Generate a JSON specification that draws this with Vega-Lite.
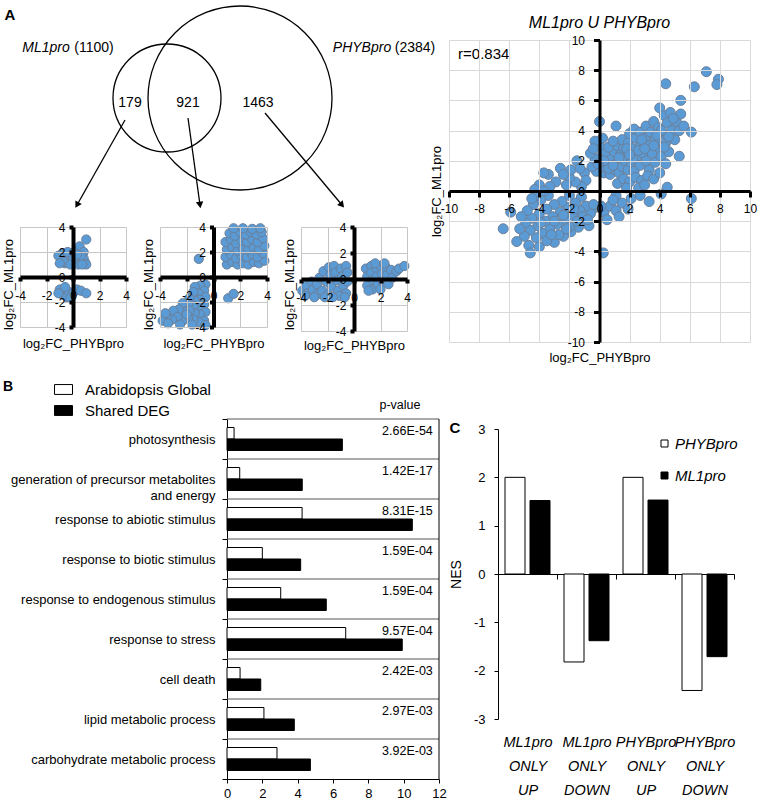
{
  "$schema": "https://vega.github.io/schema/vega-lite/v6.json",
  "padding": {"left": 2, "top": 3, "right": 0, "bottom": 0},
  "config": {
    "font": "Liberation Sans",
    "view": {"stroke": null},
    "locale": {"number": {"decimal": ".", "thousands": ",", "grouping": [3], "currency": ["$", ""], "minus": "-"}},
    "axis": {"labelColor": "black", "titleColor": "black", "labelFont": "Liberation Sans", "titleFont": "Liberation Sans", "titleFontWeight": "normal"},
    "legend": {"labelFont": "Liberation Sans", "titleFont": "Liberation Sans", "labelColor": "black", "titleColor": "black"},
    "title": {"font": "Liberation Sans", "color": "black", "fontWeight": "normal"},
    "text": {"font": "Liberation Sans", "color": "black"}
  },
  "datasets": {
    "vennSets": [{"set": "ML1pro", "count": 1100, "cx": 14.7, "cy": 5.8}, {"set": "PHYBpro", "count": 2384, "cx": 22.0, "cy": 5.8}],
    "vennItalic": [{"t": "ML1pro", "cx": 2.6, "cy": 0.8}, {"t": "PHYBpro", "cx": 34.2, "cy": 0.8}],
    "vennText": [{"t": "(1100)", "cx": 7.4, "cy": 0.8}, {"t": "(2384)", "cx": 39.5, "cy": 0.8}, {"t": "179", "cx": 11.0, "cy": 6.3}, {"t": "921", "cx": 16.8, "cy": 6.3}, {"t": "1463", "cx": 23.8, "cy": 6.3}],
    "arrows": [{"cx": 10.5, "cy": 8.0, "ex": 5.7, "ey": 16.5}, {"cx": 16.8, "cy": 7.8, "ex": 18.0, "ey": 16.5}, {"cx": 24.5, "cy": 7.3, "ex": 32.2, "ey": 16.5}],
    "s1": [
      {"phyb": 1.0, "ml1": 3.0}, {"phyb": 0.5, "ml1": 2.45}, {"phyb": 0.8, "ml1": 2.0}, {"phyb": -0.8, "ml1": 1.9}, {"phyb": -0.5, "ml1": 1.6}, {"phyb": -0.2, "ml1": 1.8}, {"phyb": 0.2, "ml1": 1.5}, {"phyb": 0.5, "ml1": 1.3}, {"phyb": 0.9, "ml1": 1.2}, {"phyb": -0.9, "ml1": 1.4}, {"phyb": -0.6, "ml1": 1.1}, {"phyb": -0.3, "ml1": 1.3}, {"phyb": 0.1, "ml1": 1.1}, {"phyb": 0.4, "ml1": 1.0}, {"phyb": 0.8, "ml1": 1.5}, {"phyb": -1.1, "ml1": 1.7}, {"phyb": -0.4, "ml1": 2.0}, {"phyb": 0.1, "ml1": 2.0}, {"phyb": 0.6, "ml1": 1.7}, {"phyb": -0.7, "ml1": 1.2}, {"phyb": 0.0, "ml1": 1.4}, {"phyb": 0.3, "ml1": 1.8}, {"phyb": 1.0, "ml1": 1.0}, {"phyb": -1.0, "ml1": 1.1}, {"phyb": -0.2, "ml1": 1.0}, {"phyb": 0.7, "ml1": 1.0},
      {"phyb": -1.0, "ml1": -1.0}, {"phyb": -0.8, "ml1": -1.4}, {"phyb": -0.5, "ml1": -1.6}, {"phyb": -0.3, "ml1": -1.2}, {"phyb": -0.6, "ml1": -0.8}, {"phyb": 0.0, "ml1": -1.3}, {"phyb": 0.3, "ml1": -1.0}, {"phyb": 0.6, "ml1": -1.1}, {"phyb": 1.0, "ml1": -1.3}, {"phyb": -1.1, "ml1": -1.3}, {"phyb": -0.2, "ml1": -1.7}
    ],
    "s2": [
      {"phyb": 1.0, "ml1": 1.0}, {"phyb": 1.4, "ml1": 1.2}, {"phyb": 1.8, "ml1": 1.0}, {"phyb": 2.2, "ml1": 1.1}, {"phyb": 2.6, "ml1": 1.0}, {"phyb": 3.0, "ml1": 1.2}, {"phyb": 3.4, "ml1": 1.1}, {"phyb": 3.8, "ml1": 1.3},
      {"phyb": 0.9, "ml1": 1.6}, {"phyb": 1.3, "ml1": 1.8}, {"phyb": 1.7, "ml1": 1.5}, {"phyb": 2.1, "ml1": 1.7}, {"phyb": 2.5, "ml1": 1.6}, {"phyb": 2.9, "ml1": 1.8}, {"phyb": 3.3, "ml1": 1.6}, {"phyb": 3.7, "ml1": 1.9},
      {"phyb": 1.0, "ml1": 2.2}, {"phyb": 1.4, "ml1": 2.4}, {"phyb": 1.8, "ml1": 2.1}, {"phyb": 2.2, "ml1": 2.3}, {"phyb": 2.6, "ml1": 2.2}, {"phyb": 3.0, "ml1": 2.4}, {"phyb": 3.4, "ml1": 2.2}, {"phyb": 3.8, "ml1": 2.5},
      {"phyb": 0.9, "ml1": 2.8}, {"phyb": 1.3, "ml1": 3.0}, {"phyb": 1.7, "ml1": 2.7}, {"phyb": 2.1, "ml1": 2.9}, {"phyb": 2.5, "ml1": 2.8}, {"phyb": 2.9, "ml1": 3.0}, {"phyb": 3.3, "ml1": 2.8}, {"phyb": 3.7, "ml1": 3.1},
      {"phyb": 1.2, "ml1": 3.5}, {"phyb": 1.6, "ml1": 3.3}, {"phyb": 2.0, "ml1": 3.6}, {"phyb": 2.4, "ml1": 3.4}, {"phyb": 2.8, "ml1": 3.6}, {"phyb": 3.2, "ml1": 3.4}, {"phyb": 3.6, "ml1": 3.6},
      {"phyb": 1.5, "ml1": 3.9}, {"phyb": 2.2, "ml1": 3.9}, {"phyb": 2.9, "ml1": 3.85}, {"phyb": 3.5, "ml1": 3.9},
      {"phyb": -1.1, "ml1": 1.45}, {"phyb": 1.1, "ml1": -1.7}, {"phyb": 1.5, "ml1": -1.35},
      {"phyb": -0.6, "ml1": -0.6}, {"phyb": -1.0, "ml1": -0.7}, {"phyb": -1.4, "ml1": -0.8}, {"phyb": -0.7, "ml1": -1.1}, {"phyb": -1.1, "ml1": -1.3}, {"phyb": -1.5, "ml1": -1.2}, {"phyb": -0.6, "ml1": -1.6}, {"phyb": -1.0, "ml1": -1.8}, {"phyb": -1.4, "ml1": -1.9}, {"phyb": -1.8, "ml1": -1.7}, {"phyb": -0.7, "ml1": -2.2}, {"phyb": -1.1, "ml1": -2.4}, {"phyb": -1.5, "ml1": -2.3}, {"phyb": -1.9, "ml1": -2.2}, {"phyb": -2.3, "ml1": -2.1}, {"phyb": -0.6, "ml1": -2.8}, {"phyb": -1.0, "ml1": -3.0}, {"phyb": -1.4, "ml1": -2.9}, {"phyb": -1.8, "ml1": -2.7}, {"phyb": -2.2, "ml1": -2.8}, {"phyb": -2.6, "ml1": -2.6}, {"phyb": -3.0, "ml1": -2.7}, {"phyb": -0.7, "ml1": -3.5}, {"phyb": -1.1, "ml1": -3.6}, {"phyb": -1.5, "ml1": -3.4}, {"phyb": -1.9, "ml1": -3.3}, {"phyb": -2.3, "ml1": -3.5}, {"phyb": -2.7, "ml1": -3.2}, {"phyb": -3.1, "ml1": -3.4}, {"phyb": -3.5, "ml1": -3.2}, {"phyb": -3.8, "ml1": -3.5}, {"phyb": -3.4, "ml1": -3.7}, {"phyb": -2.5, "ml1": -3.8}, {"phyb": -1.6, "ml1": -3.8}, {"phyb": -0.6, "ml1": -3.85}, {"phyb": -2.0, "ml1": -3.0}, {"phyb": -3.6, "ml1": -2.9}
    ],
    "s3": [
      {"phyb": -3.9, "ml1": -0.9}, {"phyb": -3.6, "ml1": -0.5}, {"phyb": -3.5, "ml1": -1.1}, {"phyb": -3.2, "ml1": -0.2}, {"phyb": -3.1, "ml1": -0.8}, {"phyb": -2.8, "ml1": -1.2}, {"phyb": -2.8, "ml1": -0.4}, {"phyb": -2.6, "ml1": 0.1}, {"phyb": -2.4, "ml1": -0.9}, {"phyb": -2.3, "ml1": 0.6}, {"phyb": -2.1, "ml1": -0.2}, {"phyb": -2.0, "ml1": -1.2}, {"phyb": -1.9, "ml1": 0.9}, {"phyb": -1.8, "ml1": 0.3}, {"phyb": -1.7, "ml1": -0.6}, {"phyb": -1.5, "ml1": 1.0}, {"phyb": -1.4, "ml1": 0.5}, {"phyb": -1.3, "ml1": -0.1}, {"phyb": -1.2, "ml1": -0.9}, {"phyb": -1.1, "ml1": -1.3}, {"phyb": -1.0, "ml1": 0.8}, {"phyb": -0.9, "ml1": 0.2}, {"phyb": -0.8, "ml1": -0.5}, {"phyb": -0.6, "ml1": 1.0}, {"phyb": -0.6, "ml1": -1.1}, {"phyb": -0.5, "ml1": 0.5}, {"phyb": -0.5, "ml1": -0.2}, {"phyb": -3.7, "ml1": -1.3}, {"phyb": -3.0, "ml1": -1.4}, {"phyb": -2.2, "ml1": -1.4}, {"phyb": -1.6, "ml1": -1.4}, {"phyb": -0.7, "ml1": -1.4},
      {"phyb": 0.9, "ml1": 0.8}, {"phyb": 1.0, "ml1": 0.2}, {"phyb": 1.0, "ml1": -0.5}, {"phyb": 1.3, "ml1": 1.0}, {"phyb": 1.3, "ml1": 0.5}, {"phyb": 1.4, "ml1": -0.1}, {"phyb": 1.4, "ml1": -0.8}, {"phyb": 1.7, "ml1": 0.8}, {"phyb": 1.7, "ml1": 0.2}, {"phyb": 1.8, "ml1": -0.4}, {"phyb": 2.0, "ml1": 1.0}, {"phyb": 2.0, "ml1": -0.8}, {"phyb": 2.1, "ml1": 0.4}, {"phyb": 2.2, "ml1": -0.2}, {"phyb": 2.4, "ml1": 0.9}, {"phyb": 2.5, "ml1": 0.3}, {"phyb": 2.6, "ml1": -0.4}, {"phyb": 2.8, "ml1": 0.7}, {"phyb": 2.9, "ml1": 0.1}, {"phyb": 3.2, "ml1": 0.6}, {"phyb": 3.4, "ml1": 0.8}, {"phyb": 3.8, "ml1": 1.0}, {"phyb": 1.1, "ml1": -0.9}, {"phyb": 1.6, "ml1": 1.2}, {"phyb": 2.3, "ml1": 1.2}
    ],
    "big": [
      {"phyb": 0.3, "ml1": 1.2}, {"phyb": 0.2, "ml1": 1.6}, {"phyb": 0.5, "ml1": 1.9}, {"phyb": 0.1, "ml1": 2.3}, {"phyb": 0.4, "ml1": 2.6}, {"phyb": 0.0, "ml1": 3.0}, {"phyb": 0.2, "ml1": 3.5}, {"phyb": 0.0, "ml1": 4.6}, {"phyb": 1.1, "ml1": 4.3}, {"phyb": 0.7, "ml1": 1.1}, {"phyb": 1.0, "ml1": 1.4}, {"phyb": 1.3, "ml1": 1.2}, {"phyb": 0.8, "ml1": 2.1}, {"phyb": 1.2, "ml1": 1.9}, {"phyb": 1.5, "ml1": 1.6}, {"phyb": 1.0, "ml1": 2.6}, {"phyb": 1.4, "ml1": 2.4}, {"phyb": 1.7, "ml1": 2.0}, {"phyb": 1.9, "ml1": 1.4}, {"phyb": 1.2, "ml1": 3.0}, {"phyb": 1.6, "ml1": 2.9}, {"phyb": 1.9, "ml1": 2.5}, {"phyb": 2.1, "ml1": 1.9}, {"phyb": 2.3, "ml1": 1.3}, {"phyb": 1.5, "ml1": 3.4}, {"phyb": 1.9, "ml1": 3.2}, {"phyb": 2.2, "ml1": 2.8}, {"phyb": 2.5, "ml1": 2.3}, {"phyb": 2.7, "ml1": 1.7}, {"phyb": 2.0, "ml1": 3.8}, {"phyb": 2.4, "ml1": 3.5}, {"phyb": 2.7, "ml1": 3.0}, {"phyb": 2.9, "ml1": 2.5}, {"phyb": 3.1, "ml1": 2.0}, {"phyb": 3.3, "ml1": 1.4}, {"phyb": 2.3, "ml1": 4.1}, {"phyb": 2.7, "ml1": 3.9}, {"phyb": 3.0, "ml1": 3.5}, {"phyb": 3.3, "ml1": 3.0}, {"phyb": 3.5, "ml1": 2.5}, {"phyb": 3.7, "ml1": 1.9}, {"phyb": 3.1, "ml1": 4.3}, {"phyb": 3.4, "ml1": 3.9}, {"phyb": 3.7, "ml1": 3.4}, {"phyb": 3.9, "ml1": 2.9}, {"phyb": 4.1, "ml1": 2.3}, {"phyb": 3.6, "ml1": 4.6}, {"phyb": 3.9, "ml1": 4.2}, {"phyb": 4.2, "ml1": 3.8}, {"phyb": 4.4, "ml1": 3.2}, {"phyb": 4.6, "ml1": 2.6}, {"phyb": 4.0, "ml1": 5.5}, {"phyb": 4.3, "ml1": 5.0}, {"phyb": 4.5, "ml1": 4.5}, {"phyb": 4.8, "ml1": 4.0}, {"phyb": 5.0, "ml1": 3.4}, {"phyb": 4.7, "ml1": 5.2}, {"phyb": 5.1, "ml1": 4.6}, {"phyb": 5.4, "ml1": 5.1}, {"phyb": 5.3, "ml1": 4.0}, {"phyb": 5.6, "ml1": 4.3}, {"phyb": 6.1, "ml1": 3.9}, {"phyb": 5.3, "ml1": 2.3}, {"phyb": 5.4, "ml1": 6.0}, {"phyb": 4.4, "ml1": 7.1}, {"phyb": 6.3, "ml1": 6.9}, {"phyb": 7.1, "ml1": 7.9}, {"phyb": 7.9, "ml1": 7.4}, {"phyb": 7.8, "ml1": 7.05}, {"phyb": 0.6, "ml1": 1.5}, {"phyb": 0.9, "ml1": 1.7}, {"phyb": 0.3, "ml1": 2.0}, {"phyb": 2.6, "ml1": 2.7}, {"phyb": 3.6, "ml1": 3.0}, {"phyb": 4.9, "ml1": 4.8}, {"phyb": 4.1, "ml1": 4.0}, {"phyb": 2.8, "ml1": 3.4}, {"phyb": 1.8, "ml1": 2.8}, {"phyb": 2.2, "ml1": 2.1}, {"phyb": 3.0, "ml1": 2.8}, {"phyb": 2.0, "ml1": 2.4}, {"phyb": 3.8, "ml1": 3.7}, {"phyb": 1.3, "ml1": 2.2}, {"phyb": 0.6, "ml1": 2.9}, {"phyb": 0.9, "ml1": 3.3}, {"phyb": 4.3, "ml1": 2.9}, {"phyb": 4.6, "ml1": 3.6},
      {"phyb": 1.2, "ml1": 0.5}, {"phyb": 1.6, "ml1": 0.8}, {"phyb": 2.0, "ml1": 0.6}, {"phyb": 2.4, "ml1": 0.9}, {"phyb": 2.8, "ml1": 0.7}, {"phyb": 3.2, "ml1": 1.0}, {"phyb": 1.1, "ml1": -0.3}, {"phyb": 1.8, "ml1": 0.2}, {"phyb": 2.6, "ml1": 0.2}, {"phyb": 3.0, "ml1": 0.4}, {"phyb": 3.6, "ml1": 0.8}, {"phyb": 4.5, "ml1": 0.25}, {"phyb": 4.1, "ml1": -0.2}, {"phyb": 6.1, "ml1": -0.5}, {"phyb": 3.3, "ml1": -0.7}, {"phyb": 2.1, "ml1": -0.5}, {"phyb": 2.7, "ml1": -0.3}, {"phyb": 1.5, "ml1": -0.8}, {"phyb": 4.0, "ml1": 1.2}, {"phyb": 4.4, "ml1": 1.8},
      {"phyb": 0.3, "ml1": -1.4}, {"phyb": 0.7, "ml1": -1.0}, {"phyb": 1.1, "ml1": -1.3}, {"phyb": 1.3, "ml1": -1.7}, {"phyb": 0.5, "ml1": -1.9}, {"phyb": 0.9, "ml1": -0.6}, {"phyb": 0.25, "ml1": -4.1}, {"phyb": 0.1, "ml1": -1.0}, {"phyb": 1.9, "ml1": -1.2},
      {"phyb": -0.2, "ml1": 1.3}, {"phyb": -0.5, "ml1": 1.6}, {"phyb": -0.3, "ml1": 2.1}, {"phyb": -0.6, "ml1": 2.5}, {"phyb": -1.0, "ml1": 1.2}, {"phyb": -1.5, "ml1": 2.0}, {"phyb": -1.3, "ml1": 1.5}, {"phyb": -0.9, "ml1": 0.7}, {"phyb": -1.2, "ml1": 0.3}, {"phyb": -1.6, "ml1": 0.6}, {"phyb": -2.0, "ml1": 0.9}, {"phyb": -2.2, "ml1": 0.4}, {"phyb": -2.6, "ml1": 1.5}, {"phyb": -3.4, "ml1": 1.1}, {"phyb": -3.7, "ml1": 1.2}, {"phyb": -2.9, "ml1": 0.6}, {"phyb": -3.3, "ml1": 0.3}, {"phyb": -1.9, "ml1": 1.4}, {"phyb": -2.4, "ml1": 1.1}, {"phyb": -4.0, "ml1": 0.4}, {"phyb": -4.3, "ml1": 0.1}, {"phyb": -0.1, "ml1": 1.8}, {"phyb": -0.3, "ml1": 3.3}, {"phyb": -0.4, "ml1": 2.8},
      {"phyb": -0.3, "ml1": -1.1}, {"phyb": -0.6, "ml1": -1.5}, {"phyb": -0.9, "ml1": -1.0}, {"phyb": -1.2, "ml1": -0.4}, {"phyb": -1.3, "ml1": -1.3}, {"phyb": -1.6, "ml1": -0.8}, {"phyb": -1.8, "ml1": -1.6}, {"phyb": -2.0, "ml1": -0.3}, {"phyb": -2.1, "ml1": -1.1}, {"phyb": -2.3, "ml1": -1.9}, {"phyb": -2.5, "ml1": -0.7}, {"phyb": -2.6, "ml1": -1.4}, {"phyb": -2.8, "ml1": -2.2}, {"phyb": -3.0, "ml1": -0.9}, {"phyb": -3.1, "ml1": -1.7}, {"phyb": -3.3, "ml1": -2.5}, {"phyb": -3.4, "ml1": -0.3}, {"phyb": -3.5, "ml1": -1.2}, {"phyb": -3.6, "ml1": -2.0}, {"phyb": -3.8, "ml1": -2.8}, {"phyb": -3.9, "ml1": -0.6}, {"phyb": -4.0, "ml1": -1.5}, {"phyb": -4.1, "ml1": -2.3}, {"phyb": -4.2, "ml1": -3.1}, {"phyb": -4.4, "ml1": -0.9}, {"phyb": -4.5, "ml1": -1.8}, {"phyb": -4.6, "ml1": -2.6}, {"phyb": -4.7, "ml1": -3.6}, {"phyb": -4.6, "ml1": -4.1}, {"phyb": -4.8, "ml1": -1.3}, {"phyb": -4.9, "ml1": -2.1}, {"phyb": -5.0, "ml1": -3.0}, {"phyb": -5.2, "ml1": -1.7}, {"phyb": -5.3, "ml1": -2.5}, {"phyb": -5.5, "ml1": -3.35}, {"phyb": -5.9, "ml1": -1.4}, {"phyb": -6.4, "ml1": -2.5}, {"phyb": -1.0, "ml1": -2.0}, {"phyb": -1.4, "ml1": -2.4}, {"phyb": -1.9, "ml1": -2.7}, {"phyb": -2.4, "ml1": -3.0}, {"phyb": -3.0, "ml1": -3.4}, {"phyb": -3.5, "ml1": -3.3}, {"phyb": -1.1, "ml1": -1.7}, {"phyb": -0.7, "ml1": -2.3}, {"phyb": -2.0, "ml1": -2.4}, {"phyb": -4.2, "ml1": -0.3}, {"phyb": -3.7, "ml1": 0.0}, {"phyb": -4.5, "ml1": -0.5}, {"phyb": -2.2, "ml1": -2.5}, {"phyb": -1.5, "ml1": -2.0}, {"phyb": -2.7, "ml1": -2.9}, {"phyb": -3.2, "ml1": -2.9}, {"phyb": -4.0, "ml1": -3.7}, {"phyb": -3.9, "ml1": -2.1}, {"phyb": -2.4, "ml1": -1.6}, {"phyb": -1.7, "ml1": -1.2}, {"phyb": -3.0, "ml1": -2.0}, {"phyb": -0.8, "ml1": -1.9}, {"phyb": -0.4, "ml1": -0.9}
    ],
    "goterms": [
      {"category": "photosynthesis", "series": "Arabidopsis Global", "value": 0.4, "p": "2.66E-54"},
      {"category": "photosynthesis", "series": "Shared DEG", "value": 6.53, "p": "2.66E-54"},
      {"category": "generation of precursor metabolites and energy", "series": "Arabidopsis Global", "value": 0.72, "p": "1.42E-17"},
      {"category": "generation of precursor metabolites and energy", "series": "Shared DEG", "value": 4.26, "p": "1.42E-17"},
      {"category": "response to abiotic stimulus", "series": "Arabidopsis Global", "value": 4.25, "p": "8.31E-15"},
      {"category": "response to abiotic stimulus", "series": "Shared DEG", "value": 10.49, "p": "8.31E-15"},
      {"category": "response to biotic stimulus", "series": "Arabidopsis Global", "value": 2.0, "p": "1.59E-04"},
      {"category": "response to biotic stimulus", "series": "Shared DEG", "value": 4.17, "p": "1.59E-04"},
      {"category": "response to endogenous stimulus", "series": "Arabidopsis Global", "value": 3.04, "p": "1.59E-04"},
      {"category": "response to endogenous stimulus", "series": "Shared DEG", "value": 5.62, "p": "1.59E-04"},
      {"category": "response to stress", "series": "Arabidopsis Global", "value": 6.72, "p": "9.57E-04"},
      {"category": "response to stress", "series": "Shared DEG", "value": 9.92, "p": "9.57E-04"},
      {"category": "cell death", "series": "Arabidopsis Global", "value": 0.74, "p": "2.42E-03"},
      {"category": "cell death", "series": "Shared DEG", "value": 1.91, "p": "2.42E-03"},
      {"category": "lipid metabolic process", "series": "Arabidopsis Global", "value": 2.09, "p": "2.97E-03"},
      {"category": "lipid metabolic process", "series": "Shared DEG", "value": 3.81, "p": "2.97E-03"},
      {"category": "carbohydrate metabolic process", "series": "Arabidopsis Global", "value": 2.83, "p": "3.92E-03"},
      {"category": "carbohydrate metabolic process", "series": "Shared DEG", "value": 4.72, "p": "3.92E-03"}
    ],
    "nes": [
      {"group": "ML1pro ONLY UP", "series": "PHYBpro", "nes": 2.0}, {"group": "ML1pro ONLY UP", "series": "ML1pro", "nes": 1.52},
      {"group": "ML1pro ONLY DOWN", "series": "PHYBpro", "nes": -1.82}, {"group": "ML1pro ONLY DOWN", "series": "ML1pro", "nes": -1.38},
      {"group": "PHYBpro ONLY UP", "series": "PHYBpro", "nes": 2.0}, {"group": "PHYBpro ONLY UP", "series": "ML1pro", "nes": 1.53},
      {"group": "PHYBpro ONLY DOWN", "series": "PHYBpro", "nes": -2.41}, {"group": "PHYBpro ONLY DOWN", "series": "ML1pro", "nes": -1.71}
    ]
  },
  "spacing": 16,
  "resolve": {"scale": {"fill": "independent", "size": "independent"}, "legend": {"fill": "independent", "size": "independent"}},
  "vconcat": [
    {
      "spacing": -6,
      "hconcat": [
        {
          "spacing": 3,
          "vconcat": [
            {
              "width": 400, "height": 178,
              "layer": [
                {
                  "data": {"name": "vennSets"},
                  "mark": {"type": "point", "shape": "circle", "filled": false, "color": "black", "strokeWidth": 1.3, "opacity": 1},
                  "encoding": {
                    "x": {"field": "cx", "type": "quantitative", "scale": {"domain": [0, 40], "nice": false, "zero": false}, "axis": null},
                    "y": {"field": "cy", "type": "quantitative", "scale": {"domain": [0, 17.8], "nice": false, "zero": false, "reverse": true}, "axis": null},
                    "size": {"field": "count", "type": "quantitative", "scale": {"domain": [1100, 2384], "range": [11664, 33856], "zero": false}, "legend": null}
                  }
                },
                {
                  "data": {"name": "vennItalic"},
                  "mark": {"type": "text", "fontSize": 14, "fontStyle": "italic", "align": "center", "baseline": "middle"},
                  "encoding": {
                    "x": {"field": "cx", "type": "quantitative", "scale": {"domain": [0, 40], "nice": false, "zero": false}, "axis": null},
                    "y": {"field": "cy", "type": "quantitative", "scale": {"domain": [0, 17.8], "nice": false, "zero": false, "reverse": true}, "axis": null},
                    "text": {"field": "t"}
                  }
                },
                {
                  "data": {"name": "vennText"},
                  "mark": {"type": "text", "fontSize": 14, "align": "center", "baseline": "middle"},
                  "encoding": {
                    "x": {"field": "cx", "type": "quantitative", "scale": {"domain": [0, 40], "nice": false, "zero": false}, "axis": null},
                    "y": {"field": "cy", "type": "quantitative", "scale": {"domain": [0, 17.8], "nice": false, "zero": false, "reverse": true}, "axis": null},
                    "text": {"field": "t"}
                  }
                },
                {
                  "data": {"values": [{"t": "A", "cx": -1.0, "cy": -2.5}]},
                  "mark": {"type": "text", "fontSize": 15, "fontWeight": "bold", "align": "center", "baseline": "middle"},
                  "encoding": {
                    "x": {"field": "cx", "type": "quantitative", "scale": {"domain": [0, 40], "nice": false, "zero": false}, "axis": null},
                    "y": {"field": "cy", "type": "quantitative", "scale": {"domain": [0, 17.8], "nice": false, "zero": false, "reverse": true}, "axis": null},
                    "text": {"field": "t"}
                  }
                },
                {
                  "data": {"name": "arrows"},
                  "mark": {"type": "rule", "color": "black", "strokeWidth": 1.3},
                  "encoding": {
                    "x": {"field": "cx", "type": "quantitative", "scale": {"domain": [0, 40], "nice": false, "zero": false}, "axis": null},
                    "y": {"field": "cy", "type": "quantitative", "scale": {"domain": [0, 17.8], "nice": false, "zero": false, "reverse": true}, "axis": null},
                    "x2": {"field": "ex"},
                    "y2": {"field": "ey"}
                  }
                },
                {
                  "data": {"name": "arrows"},
                  "transform": [{"calculate": "atan2(-(datum.ex - datum.cx), datum.ey - datum.cy) * 180 / PI", "as": "angle"}],
                  "mark": {"type": "point", "shape": "triangle-down", "filled": true, "color": "black", "size": 55, "opacity": 1},
                  "encoding": {
                    "x": {"field": "ex", "type": "quantitative", "scale": {"domain": [0, 40], "nice": false, "zero": false}, "axis": null},
                    "y": {"field": "ey", "type": "quantitative", "scale": {"domain": [0, 17.8], "nice": false, "zero": false, "reverse": true}, "axis": null},
                    "angle": {"field": "angle", "type": "quantitative", "scale": null}
                  }
                }
              ]
            },
            {
              "spacing": 12,
              "hconcat": [
                {
                  "width": 106, "height": 100,
                  "data": {"name": "s1"},
                  "mark": {"type": "circle", "size": 85, "color": "#5b9bd5", "stroke": "#6b7f99", "strokeWidth": 1, "opacity": 1},
                  "encoding": {
                    "x": {"field": "phyb", "type": "quantitative", "scale": {"domain": [-4, 4], "nice": false},
                      "axis": {"values": [-4, -2, 0, 2, 4], "offset": -50, "zindex": 1, "grid": true, "gridColor": "#c6c6c6", "domainColor": "black", "domainWidth": 4, "tickColor": "black", "tickWidth": 4, "tickSize": 4, "labelFontSize": 12, "labelPadding": 9, "labelFlush": false, "labelOverlap": false, "title": "log₂FC_PHYBpro", "titleFontSize": 13, "titleBaseline": "middle", "titleY": 66}},
                    "y": {"field": "ml1", "type": "quantitative", "scale": {"domain": [-4, 4], "nice": false},
                      "axis": {"values": [-4, -2, 0, 2, 4], "offset": -53, "zindex": 1, "grid": true, "gridColor": "#c6c6c6", "domainColor": "black", "domainWidth": 4, "tickColor": "black", "tickWidth": 4, "tickSize": 4, "labelFontSize": 12, "labelPadding": 4, "labelFlush": false, "labelOverlap": false, "title": "log₂FC_ML1pro", "titleFontSize": 13, "titleBaseline": "middle", "titleX": -64.5, "titleY": 57}}
                  }
                },
                {
                  "width": 107, "height": 100,
                  "data": {"name": "s2"},
                  "mark": {"type": "circle", "size": 85, "color": "#5b9bd5", "stroke": "#6b7f99", "strokeWidth": 1, "opacity": 1},
                  "encoding": {
                    "x": {"field": "phyb", "type": "quantitative", "scale": {"domain": [-4, 4], "nice": false},
                      "axis": {"values": [-4, -2, 0, 2, 4], "offset": -50, "zindex": 1, "grid": true, "gridColor": "#c6c6c6", "domainColor": "black", "domainWidth": 4, "tickColor": "black", "tickWidth": 4, "tickSize": 4, "labelFontSize": 12, "labelPadding": 9, "labelFlush": false, "labelOverlap": false, "title": "log₂FC_PHYBpro", "titleFontSize": 13, "titleBaseline": "middle", "titleY": 66}},
                    "y": {"field": "ml1", "type": "quantitative", "scale": {"domain": [-4, 4], "nice": false},
                      "axis": {"values": [-4, -2, 0, 2, 4], "offset": -53.5, "zindex": 1, "grid": true, "gridColor": "#c6c6c6", "domainColor": "black", "domainWidth": 4, "tickColor": "black", "tickWidth": 4, "tickSize": 4, "labelFontSize": 12, "labelPadding": 4, "labelFlush": false, "labelOverlap": false, "title": "log₂FC_ML1pro", "titleFontSize": 13, "titleBaseline": "middle", "titleX": -65, "titleY": 57}}
                  }
                },
                {
                  "width": 106, "height": 104,
                  "data": {"name": "s3"},
                  "mark": {"type": "circle", "size": 85, "color": "#5b9bd5", "stroke": "#6b7f99", "strokeWidth": 1, "opacity": 1},
                  "encoding": {
                    "x": {"field": "phyb", "type": "quantitative", "scale": {"domain": [-4, 4], "nice": false},
                      "axis": {"values": [-4, -2, 0, 2, 4], "offset": -52, "zindex": 1, "grid": true, "gridColor": "#c6c6c6", "domainColor": "black", "domainWidth": 4, "tickColor": "black", "tickWidth": 4, "tickSize": 4, "labelFontSize": 12, "labelPadding": 9, "labelFlush": false, "labelOverlap": false, "title": "log₂FC_PHYBpro", "titleFontSize": 13, "titleBaseline": "middle", "titleY": 66}},
                    "y": {"field": "ml1", "type": "quantitative", "scale": {"domain": [-4, 4], "nice": false},
                      "axis": {"values": [-4, -2, 0, 2, 4], "offset": -53, "zindex": 1, "grid": true, "gridColor": "#c6c6c6", "domainColor": "black", "domainWidth": 4, "tickColor": "black", "tickWidth": 4, "tickSize": 4, "labelFontSize": 12, "labelPadding": 4, "labelFlush": false, "labelOverlap": false, "title": "log₂FC_ML1pro", "titleFontSize": 13, "titleBaseline": "middle", "titleX": -64.5, "titleY": 57}}
                  }
                }
              ]
            }
          ]
        },
        {
          "width": 301, "height": 302,
          "title": {"text": "ML1pro U PHYBpro", "fontSize": 16, "fontStyle": "italic", "fontWeight": "normal", "offset": 3, "frame": "group", "anchor": "middle"},
          "layer": [
            {
              "data": {"name": "big"},
              "mark": {"type": "circle", "size": 100, "color": "#5b9bd5", "stroke": "#6b7f99", "strokeWidth": 1, "opacity": 1},
              "encoding": {
                "x": {"field": "phyb", "type": "quantitative", "scale": {"domain": [-10, 10], "nice": false},
                  "axis": {"values": [-10, -8, -6, -4, -2, 0, 2, 4, 6, 8, 10], "offset": -151, "zindex": 1, "grid": true, "gridColor": "#d9d9d9", "domainColor": "black", "domainWidth": 3, "tickColor": "black", "tickWidth": 3, "tickSize": 6, "labelFontSize": 12, "labelPadding": 6, "labelFlush": false, "labelOverlap": false, "title": "log₂FC_PHYBpro", "titleFontSize": 13, "titleBaseline": "middle", "titleY": 166}},
                "y": {"field": "ml1", "type": "quantitative", "scale": {"domain": [-10, 10], "nice": false},
                  "axis": {"values": [-10, -8, -6, -4, -2, 0, 2, 4, 6, 8, 10], "offset": -150.5, "zindex": 1, "grid": true, "gridColor": "#d9d9d9", "domainColor": "black", "domainWidth": 3, "tickColor": "black", "tickWidth": 3, "tickSize": 6, "labelFontSize": 12, "labelPadding": 9, "labelFlush": false, "labelOverlap": false, "title": "log₂FC_ML1pro", "titleFontSize": 13, "titleBaseline": "middle", "titleX": -163.5}}
              }
            },
            {
              "data": {"values": [{"t": "r=0.834", "phyb": -9.4, "ml1": 9.1}]},
              "mark": {"type": "text", "align": "left", "baseline": "middle", "fontSize": 15},
              "encoding": {
                "x": {"field": "phyb", "type": "quantitative", "scale": {"domain": [-10, 10], "nice": false},
                  "axis": {"values": [-10, -8, -6, -4, -2, 0, 2, 4, 6, 8, 10], "offset": -151, "zindex": 1, "grid": true, "gridColor": "#d9d9d9", "domainColor": "black", "domainWidth": 3, "tickColor": "black", "tickWidth": 3, "tickSize": 6, "labelFontSize": 12, "labelPadding": 6, "labelFlush": false, "labelOverlap": false, "title": "log₂FC_PHYBpro", "titleFontSize": 13, "titleBaseline": "middle", "titleY": 166}},
                "y": {"field": "ml1", "type": "quantitative", "scale": {"domain": [-10, 10], "nice": false},
                  "axis": {"values": [-10, -8, -6, -4, -2, 0, 2, 4, 6, 8, 10], "offset": -150.5, "zindex": 1, "grid": true, "gridColor": "#d9d9d9", "domainColor": "black", "domainWidth": 3, "tickColor": "black", "tickWidth": 3, "tickSize": 6, "labelFontSize": 12, "labelPadding": 9, "labelFlush": false, "labelOverlap": false, "title": "log₂FC_ML1pro", "titleFontSize": 13, "titleBaseline": "middle", "titleX": -163.5}},
                "text": {"field": "t"}
              }
            }
          ]
        }
      ]
    },
    {
      "spacing": 2,
      "resolve": {"scale": {"fill": "independent"}, "legend": {"fill": "independent"}},
      "hconcat": [
        {
          "width": 420, "height": 360,
          "data": {"name": "goterms"},
          "resolve": {"axis": {"x": "independent"}},
          "layer": [
            {
              "mark": {"type": "bar", "stroke": "black", "strokeWidth": 1},
              "encoding": {
                "y": {"field": "category", "type": "nominal",
                  "sort": ["photosynthesis", "generation of precursor metabolites and energy", "response to abiotic stimulus", "response to biotic stimulus", "response to endogenous stimulus", "response to stress", "cell death", "lipid metabolic process", "carbohydrate metabolic process"],
                  "scale": {"paddingInner": 0, "paddingOuter": 0},
                  "axis": {"title": null, "offset": -207, "tickBand": "extent", "grid": false, "domainColor": "black", "tickColor": "black", "tickSize": 5, "labelFontSize": 13, "labelPadding": 7, "labelLimit": 400, "labelLineHeight": 16,
                    "labelExpr": "datum.label == 'generation of precursor metabolites and energy' ? ['generation of precursor metabolites', 'and energy'] : datum.label"}},
                "yOffset": {"field": "series", "type": "nominal", "sort": ["Arabidopsis Global", "Shared DEG"], "scale": {"paddingInner": 0, "paddingOuter": 0.74}},
                "x": {"field": "value", "type": "quantitative", "scale": {"domain": [0, 12], "range": [207, 419], "nice": false},
                  "axis": {"orient": "bottom", "values": [0, 2, 4, 6, 8, 10, 12], "title": null, "grid": false, "domainColor": "black", "tickColor": "black", "tickSize": 4, "labelFontSize": 13, "labelPadding": 4, "labelFlush": false}},
                "fill": {"field": "series", "type": "nominal", "scale": {"domain": ["Arabidopsis Global", "Shared DEG"], "range": ["white", "black"]},
                  "legend": {"orient": "none", "legendX": -17, "legendY": -39, "title": "B", "titleOrient": "left", "titleAngle": 0, "titleFontSize": 14, "titleFontWeight": "bold", "titlePadding": 40, "titleAnchor": "start", "titleBaseline": "top",
                    "symbolType": "M-1,-0.55H1V0.55H-1Z", "symbolSize": 324, "symbolStrokeColor": "black", "symbolStrokeWidth": 1, "labelFontSize": 15, "labelOffset": 12, "rowPadding": 3}}
              }
            },
            {
              "transform": [{"filter": "datum.series === 'Arabidopsis Global'"}],
              "mark": {"type": "rule", "color": "#555555", "strokeWidth": 1},
              "encoding": {
                "y": {"field": "category", "type": "nominal", "bandPosition": 0,
                  "sort": ["photosynthesis", "generation of precursor metabolites and energy", "response to abiotic stimulus", "response to biotic stimulus", "response to endogenous stimulus", "response to stress", "cell death", "lipid metabolic process", "carbohydrate metabolic process"]},
                "x": {"datum": 0, "type": "quantitative", "scale": {"domain": [0, 12], "range": [207, 419], "nice": false}, "axis": null},
                "x2": {"datum": 12}
              }
            },
            {
              "transform": [{"filter": "datum.series === 'Arabidopsis Global' && datum.category === 'photosynthesis'"}],
              "mark": {"type": "rule", "color": "black", "strokeWidth": 1},
              "encoding": {
                "x": {"datum": 12, "type": "quantitative", "scale": {"domain": [0, 12], "range": [207, 419], "nice": false}, "axis": null}
              }
            },
            {
              "transform": [{"filter": "datum.series === 'Shared DEG'"}],
              "mark": {"type": "text", "align": "right", "baseline": "middle", "dy": -8, "fontSize": 12.5},
              "encoding": {
                "y": {"field": "category", "type": "nominal",
                  "sort": ["photosynthesis", "generation of precursor metabolites and energy", "response to abiotic stimulus", "response to biotic stimulus", "response to endogenous stimulus", "response to stress", "cell death", "lipid metabolic process", "carbohydrate metabolic process"]},
                "x": {"datum": 11.65, "type": "quantitative", "scale": {"domain": [0, 12], "range": [207, 419], "nice": false},
                  "axis": {"orient": "top", "title": "p-value", "domain": false, "ticks": false, "labels": false, "grid": false, "titleAlign": "right", "titleX": 400, "titleY": -8, "titleBaseline": "bottom", "titleFontSize": 12.5}},
                "text": {"field": "p"}
              }
            }
          ]
        },
        {
          "width": 236, "height": 300,
          "title": {"text": "C", "anchor": "start", "frame": "bounds", "fontSize": 15, "fontWeight": "bold", "offset": -17},
          "data": {"name": "nes"},
          "mark": {"type": "bar", "stroke": "black", "strokeWidth": 1},
          "encoding": {
            "x": {"field": "group", "type": "nominal", "sort": ["ML1pro ONLY UP", "ML1pro ONLY DOWN", "PHYBpro ONLY UP", "PHYBpro ONLY DOWN"],
              "scale": {"paddingInner": 0, "paddingOuter": 0},
              "axis": {"title": null, "offset": -145, "tickBand": "extent", "domainColor": "black", "tickColor": "black", "tickSize": 5, "labelAngle": 0, "labelPadding": 156, "labelFontSize": 14.5, "labelFontStyle": "italic", "labelExpr": "split(datum.label, ' ')", "labelLineHeight": 24, "labelBaseline": "top"}},
            "xOffset": {"field": "series", "type": "nominal", "sort": ["PHYBpro", "ML1pro"], "scale": {"paddingInner": 0.2, "paddingOuter": 0.28}},
            "y": {"field": "nes", "type": "quantitative", "scale": {"domain": [-3, 3], "range": [300, 10], "nice": false},
              "axis": {"values": [-3, -2, -1, 0, 1, 2, 3], "title": "NES", "grid": false, "domainColor": "black", "tickColor": "black", "tickSize": 4, "labelPadding": 9, "labelFontSize": 13, "titleFontSize": 14, "titlePadding": 10}},
            "fill": {"field": "series", "type": "nominal", "scale": {"domain": ["PHYBpro", "ML1pro"], "range": ["white", "black"]},
              "legend": {"orient": "none", "legendX": 159, "legendY": 17, "title": null, "labelFontSize": 15, "labelFontStyle": "italic", "symbolType": "square", "symbolSize": 49, "symbolStrokeColor": "black", "symbolStrokeWidth": 1, "labelOffset": 3, "rowPadding": 16}}
          }
        }
      ]
    }
  ]
}
